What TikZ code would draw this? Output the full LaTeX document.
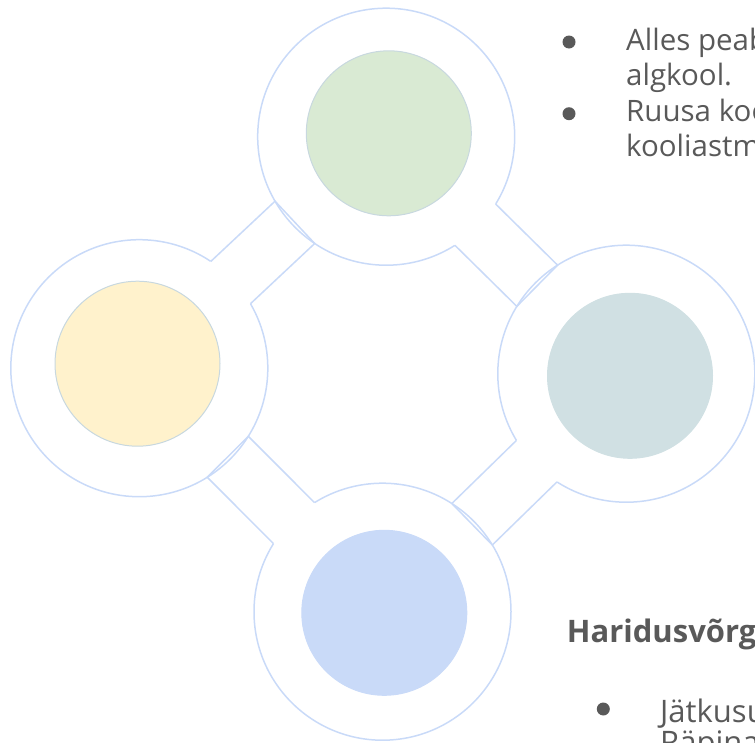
\documentclass[tikz,border=0pt]{standalone}
\usepackage{fontspec}
\setmainfont{Open Sans}
\usetikzlibrary{calc}

\definecolor{ringblue}{HTML}{C9DAF8}
\definecolor{diskline}{HTML}{C8D8DF}
\definecolor{diskgreen}{HTML}{D9EAD3}
\definecolor{diskyellow}{HTML}{FFF2CC}
\definecolor{diskteal}{HTML}{D0E0E3}
\definecolor{diskblue}{HTML}{C9DAF8}
\definecolor{textgray}{HTML}{595959}

\begin{document}
\begin{tikzpicture}[x=1pt, y=-1pt,
    ring/.style={circle, draw=ringblue, line width=1.5pt, inner sep=0pt, minimum size=257pt},
    disk/.style={circle, line width=1pt, inner sep=0pt, minimum size=165pt},
    link/.style={draw=ringblue, line width=1.5pt, line join=miter},
    bulletdot/.style={circle, fill=textgray, inner sep=0pt, minimum size=13pt},
    bodytext/.style={anchor=base west, inner sep=0pt, text=textgray, font=\fontsize{29.5}{35}\selectfont}]

    \clip (0,0) rectangle (755,742);

    % Outer rings
    \node[ring] (topring) at (386.2,136.7) {};
    \node[ring] (rightring) at (626.3,373.7) {};
    \node[ring] (bottomring) at (382.5,611.7) {};
    \node[ring] (leftring) at (139.3,368.2) {};

    % Coloured disks
    \node[disk, fill=diskgreen, draw=diskline] (topdisk) at (388.8,133.3) {};
    \node[disk, fill=diskteal, draw=diskteal] (rightdisk) at (630,375.8) {};
    \node[disk, fill=diskblue, draw=diskblue] (bottomdisk) at (384.3,612.8) {};
    \node[disk, fill=diskyellow, draw=diskline] (leftdisk) at (137.5,363.7) {};

    % Links between the rings
    \foreach \a/\b in {topring/rightring, rightring/bottomring, bottomring/leftring, leftring/topring} {
        \coordinate (\a p) at ($(\a)!125.2pt!(\b)$);
        \coordinate (\a q) at ($(\b)!125.2pt!(\a)$);
        \coordinate (\a f) at ($(\a)!121pt!(\b)$);
        \coordinate (\a g) at ($(\b)!130.5pt!(\a)$);
        \fill[white] ($(\a f)!29pt!90:(\b)$) -- ($(\a f)!29pt!-90:(\b)$)
            -- ($(\a g)!29pt!90:(\a)$) -- ($(\a g)!29pt!-90:(\a)$) -- cycle;
        \coordinate (\a s1) at ($(\a p)!29pt!90:(\b)$);
        \coordinate (\a s2) at ($(\a p)!29pt!-90:(\b)$);
        \coordinate (\a e1) at ($(\a q)!29pt!-90:(\a)$);
        \coordinate (\a e2) at ($(\a q)!29pt!90:(\a)$);
        \draw[link] (\a s1) -- (\a e1) -- (\a e2) -- (\a s2);
    }

    % Text at the top right
    \node[bulletdot] (dot1) at (569,42) {};
    \node[bodytext] (line1) at (626,50.5) {Alles peab};
    \node[bodytext] (line2) at (626,85.5) {algkool.};
    \node[bulletdot] (dot2) at (569,113.7) {};
    \node[bodytext] (line3) at (626,121.5) {Ruusa koo};
    \node[bodytext] (line4) at (626,156.5) {kooliastm};

    % Text at the bottom right
    \node[bodytext, font=\bfseries\fontsize{31}{37}\selectfont] (heading) at (566.7,642.7) {Haridusvõrg};
    \node[bulletdot] (dot3) at (603.3,709) {};
    \node[bodytext, font=\fontsize{31}{37}\selectfont] (line5) at (660,722.5) {Jätkusu};
    \node[bodytext, font=\fontsize{31}{37}\selectfont] (line6) at (660,753) {Räpina};

\end{tikzpicture}
\end{document}
